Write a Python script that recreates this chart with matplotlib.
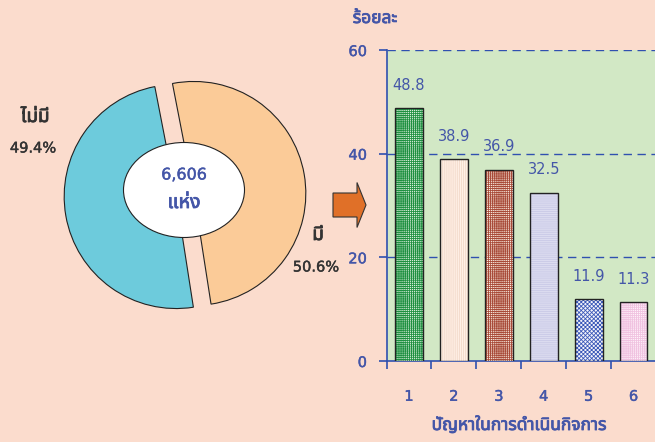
import matplotlib
matplotlib.use("Agg")
import matplotlib.pyplot as plt
import matplotlib.patheffects as pe
from matplotlib import font_manager
from matplotlib.ft2font import FT2Font
from matplotlib.patches import Ellipse, FancyArrow

# ---------------- data ----------------
pie_labels = ["ไม่มี", "มี"]
pie_values = [49.4, 50.6]
pie_pct_text = ["49.4%", "50.6%"]
center_total = "6,606"
center_unit = "แห่ง"

categories = ["1", "2", "3", "4", "5", "6"]
values = [48.8, 38.9, 36.9, 32.5, 11.9, 11.3]
y_ticks = [0, 20, 40, 60]
y_label = "ร้อยละ"
x_label = "ปัญหาในการดำเนินกิจการ"

# ---------------- fonts ----------------
thai_names = set()
for f in font_manager.fontManager.ttflist:
    try:
        cm = FT2Font(f.fname).get_charmap()
    except Exception:
        continue
    if 0x0E1B in cm and 0x0E35 in cm and 0x0E48 in cm:
        thai_names.add(f.name)
pref = ["Noto Sans Thai", "Sarabun", "IBM Plex Sans Thai Looped", "Anuphan", "Athiti"]
thai_family = next((p for p in pref if p in thai_names), None)
if thai_family is None and thai_names:
    thai_family = sorted(thai_names)[0]
THAI = ([thai_family] if thai_family else []) + ["DejaVu Sans"]
NUM = ["DejaVu Sans"]
plt.rcParams["font.family"] = NUM
plt.rcParams["hatch.linewidth"] = 0.6

BG = "#FBDCCD"
BLUE = "#4456A8"
AXBLUE = "#3050B0"
DARK = "#333333"

def bold(color, w=0.6):
    return [pe.withStroke(linewidth=w, foreground=color)]

W, H = 655, 442
fig = plt.figure(figsize=(W / 100, H / 100), dpi=100, facecolor=BG)

def fx(px):
    return px / W

def fy(py):
    return 1 - py / H

# ---------------- donut / pie ----------------
R = 112.0
cx, cy = 185, 195
half = 1.6
pax = fig.add_axes([fx(cx - half * R), fy(cy + half * R), 2 * half * R / W, 2 * half * R / H])
pax.set_facecolor("none")
pax.pie(pie_values, colors=["#6DCBDC", "#FBCB98"], startangle=101, counterclock=True,
        explode=[0.08, 0.08], radius=1.0,
        wedgeprops=dict(edgecolor="#222222", linewidth=0.8))
pax.set_xlim(-half, half)
pax.set_ylim(-half, half)
pax.set_aspect("auto")
pax.axis("off")

ell = Ellipse(((184 - cx) / R, (cy - 190) / R), 121 / R, 95 / R,
              facecolor="white", edgecolor="#222222", linewidth=0.8, zorder=5)
pax.add_patch(ell)

fig.text(fx(184), fy(175), center_total, color=BLUE, fontsize=11.5, family=NUM,
         ha="center", va="center", path_effects=bold(BLUE, 0.3))
fig.text(fx(184), fy(203), center_unit, color=BLUE, fontsize=14, family=THAI,
         ha="center", va="center", path_effects=bold(BLUE))

fig.text(fx(35), fy(117), pie_labels[0], color=DARK, fontsize=13.5, family=THAI,
         ha="center", va="center", path_effects=bold(DARK))
fig.text(fx(33), fy(148), pie_pct_text[0], color=DARK, fontsize=10.5, family=NUM,
         ha="center", va="center", path_effects=bold(DARK, 0.3))
fig.text(fx(318), fy(235), pie_labels[1], color=DARK, fontsize=13.5, family=THAI,
         ha="center", va="center", path_effects=bold(DARK))
fig.text(fx(316), fy(267), pie_pct_text[1], color=DARK, fontsize=10.5, family=NUM,
         ha="center", va="center", path_effects=bold(DARK, 0.3))

# ---------------- arrow ----------------
arrow = FancyArrow(fx(333), fy(205), fx(366) - fx(333), 0,
                   width=(217 - 193) / H, head_width=(227 - 182) / H,
                   head_length=fx(366) - fx(357), length_includes_head=True,
                   transform=fig.transFigure, facecolor="#E07028",
                   edgecolor="#333333", linewidth=0.8)
fig.patches.append(arrow)

# ---------------- bar chart ----------------
left, right, top, bottom = 386.5, 656, 50, 361
bax = fig.add_axes([fx(left), fy(bottom), (right - left) / W, (bottom - top) / H])
bax.set_facecolor("#D2E8C5")
bax.set_xlim(0.5, 6.5)
bax.set_ylim(0, 60)

face = ["#D8EEDA", "#FFF0E6", "#FBEFE4", "#DCDCF0", "#F4F4FA", "#FFF2FA"]
hcol = ["#1E9040", "#F2D8C8", "#A84A38", "#C9C9E6", "#3A58B8", "#F0C2E0"]
hatch = ["++++++++", "||||||||", "++++++++", "--------", "xxxxxxxx", "++++++++"]
xs = list(range(1, len(values) + 1))
for i, (x, v) in enumerate(zip(xs, values)):
    bax.bar(x, v, width=0.62, color=face[i], edgecolor=hcol[i], hatch=hatch[i],
            linewidth=0, zorder=3)
bax.bar(xs, values, width=0.62, fill=False, edgecolor="#222222", linewidth=1.0, zorder=4)

for x, v in zip(xs, values):
    bax.annotate(f"{v:.1f}", (x, v), xytext=(0, 11), textcoords="offset points",
                 ha="center", va="bottom", color=BLUE, fontsize=10.5, zorder=6)

for yv in [20, 40, 60]:
    bax.axhline(yv, color=AXBLUE, linestyle=(0, (6, 4)), linewidth=1.0, zorder=2)

for s in ["top", "right"]:
    bax.spines[s].set_visible(False)
for s in ["left", "bottom"]:
    bax.spines[s].set_color(AXBLUE)
    bax.spines[s].set_linewidth(1.2)

bax.set_yticks(y_ticks)
bax.set_yticklabels([str(t) for t in y_ticks], color=BLUE, fontsize=10.5)
bax.tick_params(axis="y", direction="out", length=6, color=AXBLUE, width=1.2, pad=8)

bax.set_xticks(xs)
bax.set_xticklabels(categories, color=BLUE, fontsize=10.5)
bax.set_xticks([x + 0.5 for x in range(0, 7)], minor=True)
bax.tick_params(axis="x", which="major", length=0, pad=20)
bax.tick_params(axis="x", which="minor", direction="out", length=6, color=AXBLUE, width=1.2)
for lab in bax.get_xticklabels() + bax.get_yticklabels():
    lab.set_path_effects(bold(BLUE, 0.3))

fig.text(fx(519), fy(425), x_label, color=BLUE, fontsize=12.5, family=THAI,
         ha="center", va="center", path_effects=bold(BLUE))
fig.text(fx(375), fy(18), y_label, color=BLUE, fontsize=12.5, family=THAI,
         ha="center", va="center", path_effects=bold(BLUE))

fig.savefig("out.png", dpi=100, facecolor=BG)
